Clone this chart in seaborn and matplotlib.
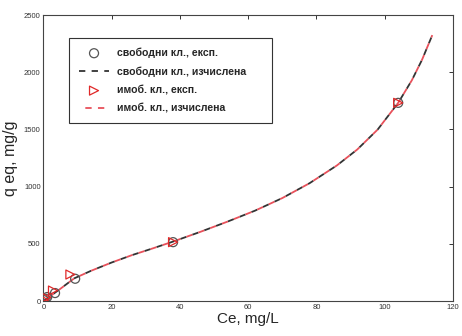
import matplotlib
matplotlib.use("Agg")
import matplotlib.pyplot as plt
import seaborn as sns

ce_free = [0.1, 0.6, 1.1, 3.4, 9.3, 38, 104]
q_free = [8, 20, 35, 70, 195, 515, 1733]

ce_immob = [0.2, 0.8, 2.8, 7.9, 38, 104]
q_immob = [10, 30, 92, 232, 515, 1733]

# calculated isotherm (same curve for both)
ce_calc = [0, 2, 5, 9, 14, 20, 26, 32, 38, 46, 54, 62, 70, 78, 86, 92, 98, 104, 108, 111, 114]
q_calc_free = [0, 43, 108, 198, 265, 337, 402, 460, 520, 605, 695, 790, 900, 1030, 1185, 1325, 1500, 1733, 1930, 2110, 2325]
q_calc_immob = [0, 43, 108, 198, 265, 337, 402, 460, 520, 605, 695, 790, 900, 1030, 1185, 1325, 1500, 1733, 1930, 2110, 2325]

labels = ["свободни кл., експ.", "свободни кл., изчислена",
          "имоб. кл., експ.", "имоб. кл., изчислена"]

sns.set_style("white")
plt.rcParams["font.family"] = ["Liberation Sans", "DejaVu Sans"]

fig = plt.figure(figsize=(4.62, 3.36), dpi=100)
ax = fig.add_axes([0.094, 0.104, 0.886, 0.851])

sns.scatterplot(x=ce_free, y=q_free, marker="o", s=42, facecolors="none",
                edgecolor="#555555", linewidth=0.9, ax=ax, label=labels[0], zorder=3)
sns.lineplot(x=ce_calc, y=q_calc_free, color="#333333", linewidth=1.3,
             linestyle=(0, (3.5, 3.5)), ax=ax, label=labels[1], sort=False)
sns.scatterplot(x=ce_immob, y=q_immob, marker=">", s=42, facecolors="none",
                edgecolor="#e02828", linewidth=0.9, ax=ax, label=labels[2], zorder=3)
sns.lineplot(x=ce_calc, y=q_calc_immob, color="#e8505a", linewidth=1.3,
             linestyle=(3.5, (3.5, 3.5)), ax=ax, label=labels[3], sort=False)

ax.set_xlim(0, 120)
ax.set_ylim(0, 2500)
ax.set_xticks(range(0, 121, 20))
ax.set_yticks(range(0, 2501, 500))
ax.tick_params(direction="in", length=3, width=0.7, labelsize=5.5, pad=2,
               top=True, right=True, colors="#333333")
for sp in ax.spines.values():
    sp.set_color("#444444")
    sp.set_linewidth(0.8)

ax.set_xlabel("Ce, mg/L", fontsize=11)
ax.set_ylabel("q eq, mg/g", fontsize=11.5)
ax.xaxis.set_label_coords(0.5, -0.04)
ax.yaxis.set_label_coords(-0.062, 0.5)

leg = ax.legend(loc="upper left", bbox_to_anchor=(0.063, 0.612, 0.496, 0.308),
                mode="expand", frameon=True, fancybox=False, edgecolor="#333333",
                framealpha=1, prop={"weight": "bold", "size": 7.6},
                handlelength=2.9, labelspacing=0.8, borderpad=0.9,
                borderaxespad=0, handletextpad=0.7)
leg.get_frame().set_linewidth(0.8)

fig.savefig("out.png", dpi=100)
